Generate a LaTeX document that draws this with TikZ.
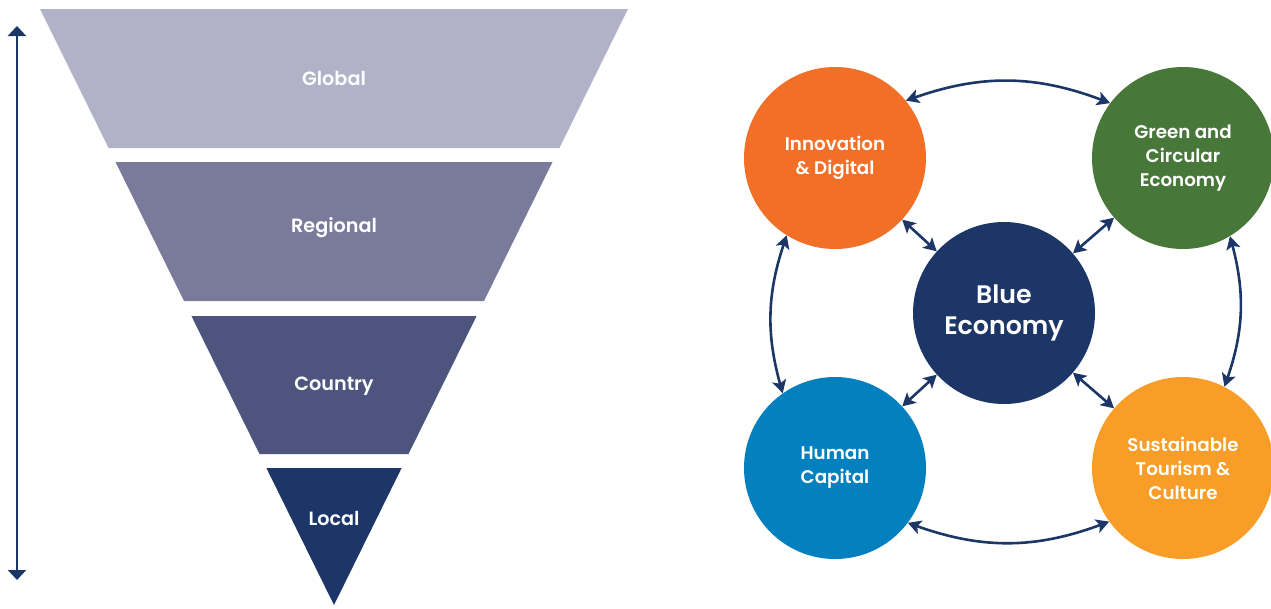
\documentclass[tikz,border=0pt]{standalone}
\usepackage{fontspec}
\setmainfont{Poppins}[BoldFont={* SemiBold}]
\usetikzlibrary{arrows.meta}
\definecolor{cglobal}{HTML}{B1B2C8}
\definecolor{cregional}{HTML}{7A7B9B}
\definecolor{ccountry}{HTML}{4D557F}
\definecolor{clocal}{HTML}{1C3668}
\definecolor{navy}{HTML}{1C3668}
\definecolor{corange}{HTML}{F26F28}
\definecolor{cgreen}{HTML}{48773A}
\definecolor{cblue}{HTML}{0380BD}
\definecolor{cyellow}{HTML}{F89D27}
\begin{document}
\begin{tikzpicture}[x=1pt,y=-1pt,
  flabel/.style={text=white,font=\fontsize{19.2}{22}\selectfont\bfseries},
  bubble/.style={circle,minimum size=182pt,inner sep=0pt,text=white,align=center,
     font=\fontsize{18.3}{24}\selectfont\bfseries},
  link/.style={navy,line width=2.6pt,{Stealth[width=14pt,length=13pt,inset=3pt]}-{Stealth[width=14pt,length=13pt,inset=3pt]}},
  scalearrow/.style={navy,line width=2.6pt,{Triangle[width=18pt,length=10pt]}-{Triangle[width=18pt,length=10pt]}}
]
\useasboundingbox (0,0) rectangle (1271,608);
% funnel
\fill[cglobal] (40,9) -- (628,9) -- (559.4,148) -- (108.6,148) -- cycle;
\fill[cregional] (115.5,162) -- (552.5,162) -- (484,301) -- (184,301) -- cycle;
\fill[ccountry] (191.4,316) -- (476.6,316) -- (408.5,454) -- (259.5,454) -- cycle;
\fill[clocal] (266.4,468) -- (401.6,468) -- (334,605) -- cycle;
\node[flabel] (lglobal) at (334,78) {Global};
\node[flabel] (lregional) at (334,228) {Regional};
\node[flabel] (lcountry) at (334,386) {Country};
\node[flabel] (llocal) at (334,518) {Local};
\coordinate (atop) at (17,26);
\coordinate (abot) at (17,580);
\draw[scalearrow] (atop) -- (abot);
% circles
\node[bubble,fill=corange] (inn) at (835,158) {Innovation\\\& Digital};
\node[bubble,fill=cgreen] (grn) at (1183,158) {Green and\\Circular\\Economy};
\node[bubble,fill=cblue] (hum) at (835,468) {Human\\Capital};
\node[bubble,fill=cyellow] (sus) at (1183,468) {Sustainable\\Tourism \&\\Culture};
\node[bubble,fill=navy,font=\fontsize{25.3}{31}\selectfont\bfseries] (blue) at (1004,313) {Blue\\Economy};
% links
\draw[link] (blue) -- (inn);
\draw[link] (blue) -- (grn);
\draw[link] (blue) -- (hum);
\draw[link] (blue) -- (sus);
\draw[link] (inn.39) to[bend left=20] (grn.143);
\draw[link] (inn.238) to[bend right=17] (hum.125);
\draw[link] (grn.301) to[bend left=17] (sus.63);
\draw[link] (hum.323) to[bend right=20] (sus.216);
\end{tikzpicture}
\end{document}
